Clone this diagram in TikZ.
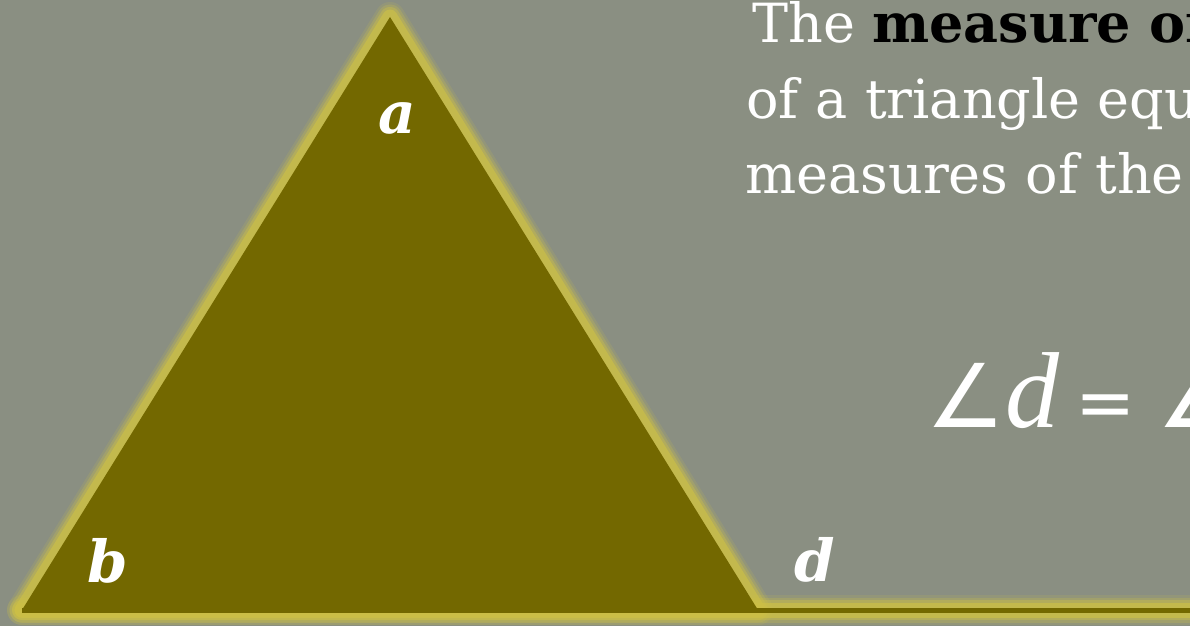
\documentclass[tikz,border=0pt]{standalone}
\usepackage{fontspec}
\setmainfont{DejaVu Serif}
\newfontfamily\symfont{DejaVu Sans}
\newfontfamily\eqfont{Liberation Serif}
\definecolor{bgc}{RGB}{138,143,130}
\definecolor{olivef}{RGB}{115,104,0}
\definecolor{glowc}{RGB}{205,192,70}
\tikzset{
  glowline/.style={glowc, line join=round, line cap=round},
  lbl/.style={text=white, inner sep=0pt, font=\fontsize{58}{60}\selectfont\bfseries\itshape},
  txtline/.style={text=white, inner sep=0pt, anchor=base west, font=\fontsize{54}{60}\selectfont},
}
\begin{document}
\begin{tikzpicture}[x=1pt,y=-1pt]
\useasboundingbox (0,0) rectangle (1190,626);
\clip (0,0) rectangle (1190,626);
\fill[bgc] (0,0) rectangle (1190,626);
\coordinate (A) at (390,17);
\coordinate (B) at (22,610);
\coordinate (C) at (758,610);
\coordinate (E) at (1210,610);
\foreach \w/\o in {30/0.15, 25/0.25, 20/0.4, 15/0.65} {
  \draw[glowline, line width=\w, opacity=\o] (A) -- (B) -- (C) -- cycle;
  \draw[glowline, line width=\w, opacity=\o] (B) -- (E);
}
\draw[olivef, line width=5] (B) -- (E);
\fill[olivef] (A) -- (B) -- (C) -- cycle;
\node[lbl] (la) at (397,118) {a};
\node[lbl] (lb) at (108,561) {b};
\node[lbl] (ld) at (815,560) {d};
\node[txtline] (l1) at (752,43) {The \textcolor{black}{\bfseries measure of}};
\node[txtline] (l2) at (746,118) {of a triangle equ};
\node[txtline] (l3) at (745,193) {measures of the};
\node[text=white, inner sep=0pt, anchor=base west] (eq) at (926,427)
  {{\symfont\fontsize{88}{90}\selectfont ∠}{\eqfont\itshape\fontsize{108}{110}\selectfont d}\kern 16pt{\symfont\fontsize{72}{80}\selectfont =}\kern 22pt{\symfont\fontsize{88}{90}\selectfont ∠}};
\end{tikzpicture}
\end{document}
